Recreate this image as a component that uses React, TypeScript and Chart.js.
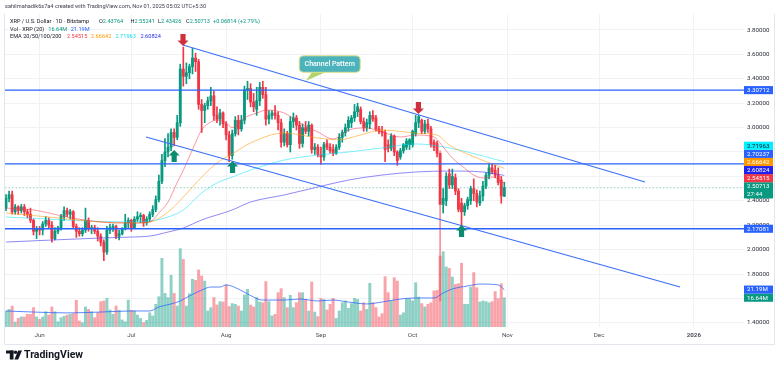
import React, { useEffect, useRef } from "react";
import { Chart, registerables } from "chart.js";

Chart.register(...registerables);

const FONT = "Roboto, 'Liberation Sans', Arial, sans-serif";

// Daily candles, day index 0 = 2025-05-21 ... 163 = 2025-10-31
const opens = [
  2.34, 2.42, 2.45, 2.31, 2.35, 2.32, 2.35, 2.31, 2.29, 2.24,
  2.15, 2.17, 2.16, 2.21, 2.24, 2.20, 2.09, 2.15, 2.18, 2.27,
  2.32, 2.29, 2.31, 2.19, 2.15, 2.13, 2.16, 2.24, 2.17, 2.18,
  2.15, 2.11, 2.06, 1.98, 2.16, 2.18, 2.19, 2.11, 2.13, 2.17,
  2.22, 2.24, 2.18, 2.25, 2.27, 2.28, 2.22, 2.25, 2.29, 2.33,
  2.41, 2.56, 2.73, 2.80, 2.84, 2.96, 2.92, 3.04, 3.48, 3.42,
  3.45, 3.50, 3.57, 3.54, 3.19, 3.14, 3.18, 3.22, 3.26, 3.10,
  3.07, 3.12, 3.03, 2.94, 2.77, 2.95, 3.06, 2.99, 3.06, 3.31,
  3.32, 3.21, 3.15, 3.22, 3.33, 3.27, 3.07, 3.10, 3.12, 3.10,
  3.04, 2.88, 2.95, 2.86, 3.05, 3.08, 3.02, 2.87, 3.00, 2.97,
  3.02, 2.82, 2.84, 2.78, 2.76, 2.87, 2.84, 2.82, 2.79, 2.84,
  2.92, 2.96, 3.00, 3.04, 3.08, 3.13, 3.15, 3.05, 3.00, 3.03,
  3.10, 3.08, 2.99, 2.97, 2.96, 2.86, 2.83, 2.93, 2.80, 2.76,
  2.81, 2.84, 2.86, 2.86, 2.95, 3.04, 3.06, 2.97, 3.03, 2.99,
  2.88, 2.87, 2.79, 2.37, 2.40, 2.62, 2.53, 2.59, 2.48, 2.38,
  2.31, 2.36, 2.40, 2.50, 2.46, 2.38, 2.44, 2.52, 2.61, 2.67,
  2.65, 2.61, 2.57, 2.43764,
];
const highs = [
  2.45, 2.48, 2.48, 2.37, 2.36, 2.37, 2.37, 2.33, 2.34, 2.25,
  2.19, 2.19, 2.23, 2.27, 2.26, 2.23, 2.18, 2.19, 2.29, 2.35,
  2.34, 2.33, 2.32, 2.21, 2.18, 2.18, 2.34, 2.26, 2.20, 2.20,
  2.18, 2.13, 2.08, 2.19, 2.21, 2.21, 2.20, 2.16, 2.18, 2.29,
  2.26, 2.25, 2.27, 2.31, 2.30, 2.29, 2.27, 2.31, 2.36, 2.44,
  2.61, 2.78, 2.91, 2.95, 2.99, 2.99, 3.10, 3.52, 3.66, 3.53,
  3.52, 3.65, 3.61, 3.56, 3.23, 3.20, 3.25, 3.33, 3.30, 3.17,
  3.15, 3.13, 3.05, 2.97, 2.98, 3.09, 3.10, 3.10, 3.34, 3.38,
  3.36, 3.28, 3.33, 3.37, 3.38, 3.33, 3.14, 3.14, 3.18, 3.13,
  3.07, 2.99, 2.97, 3.09, 3.12, 3.10, 3.05, 3.03, 3.05, 3.05,
  3.03, 2.87, 2.86, 2.84, 2.88, 2.90, 2.87, 2.86, 2.86, 2.95,
  2.98, 3.03, 3.09, 3.10, 3.19, 3.20, 3.17, 3.08, 3.07, 3.13,
  3.14, 3.10, 3.01, 3.01, 2.98, 2.90, 2.95, 2.94, 2.81, 2.83,
  2.87, 2.91, 2.91, 2.98, 3.10, 3.10, 3.07, 3.06, 3.07, 3.01,
  2.90, 2.89, 2.81, 2.50, 2.63, 2.66, 2.66, 2.62, 2.50, 2.42,
  2.38, 2.43, 2.52, 2.58, 2.49, 2.48, 2.56, 2.63, 2.70, 2.70,
  2.69, 2.67, 2.60, 2.55241,
];
const lows = [
  2.32, 2.39, 2.29, 2.29, 2.29, 2.30, 2.28, 2.26, 2.22, 2.12,
  2.09, 2.12, 2.12, 2.19, 2.18, 2.06, 2.08, 2.13, 2.16, 2.24,
  2.27, 2.25, 2.18, 2.10, 2.11, 2.11, 2.14, 2.15, 2.13, 2.13,
  2.07, 2.03, 1.91, 1.96, 2.13, 2.15, 2.09, 2.08, 2.12, 2.16,
  2.18, 2.15, 2.17, 2.23, 2.22, 2.19, 2.20, 2.23, 2.27, 2.31,
  2.39, 2.54, 2.68, 2.76, 2.81, 2.85, 2.90, 3.01, 3.34, 3.36,
  3.40, 3.44, 3.46, 3.15, 2.96, 3.04, 3.15, 3.18, 3.06, 3.04,
  3.02, 3.00, 2.90, 2.72, 2.74, 2.93, 2.94, 2.97, 3.03, 3.23,
  3.17, 3.13, 3.10, 3.18, 3.24, 3.02, 3.03, 3.07, 3.07, 2.98,
  2.84, 2.85, 2.84, 2.80, 3.00, 2.98, 2.83, 2.84, 2.95, 2.93,
  2.79, 2.78, 2.76, 2.70, 2.73, 2.82, 2.79, 2.77, 2.78, 2.82,
  2.88, 2.93, 2.97, 3.00, 3.05, 3.09, 3.03, 2.97, 2.97, 2.99,
  3.05, 2.97, 2.95, 2.93, 2.72, 2.80, 2.81, 2.77, 2.69, 2.74,
  2.79, 2.82, 2.82, 2.84, 2.93, 3.00, 2.95, 2.95, 2.96, 2.84,
  2.81, 2.76, 1.58, 2.30, 2.36, 2.50, 2.50, 2.45, 2.31, 2.19,
  2.28, 2.33, 2.37, 2.40, 2.35, 2.36, 2.40, 2.50, 2.58, 2.62,
  2.59, 2.53, 2.38, 2.43426,
];
const closes = [
  2.42, 2.45, 2.31, 2.35, 2.32, 2.35, 2.31, 2.29, 2.24, 2.15,
  2.17, 2.16, 2.21, 2.24, 2.20, 2.09, 2.15, 2.18, 2.27, 2.32,
  2.29, 2.31, 2.19, 2.15, 2.13, 2.16, 2.24, 2.17, 2.18, 2.15,
  2.11, 2.06, 1.98, 2.16, 2.18, 2.19, 2.11, 2.13, 2.17, 2.22,
  2.24, 2.18, 2.25, 2.27, 2.28, 2.22, 2.25, 2.29, 2.33, 2.41,
  2.56, 2.73, 2.80, 2.84, 2.96, 2.92, 3.04, 3.48, 3.42, 3.45,
  3.50, 3.57, 3.54, 3.19, 3.14, 3.18, 3.22, 3.26, 3.10, 3.07,
  3.12, 3.03, 2.94, 2.77, 2.95, 3.06, 2.99, 3.06, 3.31, 3.32,
  3.21, 3.17, 3.22, 3.33, 3.27, 3.07, 3.10, 3.12, 3.10, 3.04,
  2.88, 2.95, 2.86, 3.05, 3.08, 3.02, 2.87, 3.00, 2.97, 3.02,
  2.82, 2.84, 2.78, 2.76, 2.86, 2.84, 2.81, 2.79, 2.84, 2.92,
  2.96, 3.00, 3.06, 3.08, 3.13, 3.17, 3.05, 3.00, 3.04, 3.10,
  3.07, 2.99, 2.97, 2.96, 2.82, 2.83, 2.93, 2.80, 2.73, 2.81,
  2.86, 2.89, 2.90, 2.97, 3.04, 3.09, 2.97, 3.03, 2.99, 2.86,
  2.84, 2.79, 2.37, 2.42, 2.60, 2.53, 2.60, 2.48, 2.33, 2.31,
  2.36, 2.41, 2.50, 2.46, 2.39, 2.44, 2.52, 2.61, 2.67, 2.64,
  2.61, 2.55, 2.44, 2.50713,
];
// volume in millions of XRP
const volumes = [
  9.1, 10.0, 11.9, 2.8, 4.9, 5.7, 5.7, 7.2, 7.2, 11.0,
  5.7, 4.4, 5.7, 8.7, 6.8, 11.4, 8.7, 3.0, 5.3, 6.1,
  6.8, 7.2, 7.6, 15.2, 3.4, 2.5, 11.4, 10.0, 8.7, 5.3,
  8.1, 14.4, 14.8, 16.3, 9.7, 7.2, 11.9, 9.5, 4.0, 3.0,
  15.3, 9.5, 9.1, 6.8, 4.9, 2.5, 3.8, 8.1, 6.3, 12.9,
  17.2, 39.0, 19.1, 16.7, 29.4, 19.1, 11.9, 44.5, 38.4, 11.9,
  18.9, 27.1, 26.5, 32.4, 29.0, 26.1, 9.1, 11.0, 16.7, 12.5,
  14.4, 14.2, 23.9, 11.6, 13.3, 12.9, 11.9, 9.1, 18.2, 21.4,
  12.5, 11.4, 16.7, 14.2, 13.8, 25.8, 14.4, 6.3, 7.2, 19.5,
  21.8, 16.7, 11.0, 18.0, 11.0, 13.8, 19.5, 19.5, 15.7, 9.1,
  25.6, 8.5, 5.9, 16.3, 15.7, 9.7, 12.9, 16.3, 4.9, 9.1,
  13.8, 14.8, 10.6, 13.3, 16.3, 15.7, 9.1, 13.8, 10.0, 24.8,
  13.8, 11.0, 5.7, 7.6, 28.6, 19.5, 14.8, 28.0, 26.1, 6.8,
  8.1, 16.1, 16.1, 14.8, 25.2, 17.0, 13.3, 11.4, 12.9, 13.8,
  20.5, 20.8, 40.3, 42.8, 34.1, 33.3, 28.4, 24.2, 24.6, 36.2,
  12.9, 12.9, 22.7, 30.9, 22.3, 14.2, 14.8, 14.4, 13.8, 14.4,
  20.1, 16.1, 24.6, 16.64,
];

const monthTickDays = [11, 41, 72, 103, 133, 164, 194, 225];
const monthTickLabels = ["Jun", "Jul", "Aug", "Sep", "Oct", "Nov", "Dec", "2026"];
const priceTicks = [1.4, 1.6, 1.8, 2.0, 2.2, 2.4, 2.6, 2.8, 3.0, 3.2, 3.4, 3.6, 3.8];

// EMA readings (day index, value)
const ema20Days = [0, 9, 20, 31, 41, 47, 50, 53, 56, 58, 61, 64, 67, 69, 72, 74, 78, 83, 85, 91, 96, 102, 107, 112, 118, 123, 129, 134, 140, 143, 146, 150, 153, 156, 159, 163];
const ema20 = [2.34, 2.325, 2.267, 2.226, 2.218, 2.226, 2.30, 2.39, 2.55, 2.65, 2.82, 2.98, 3.046, 3.062, 3.038, 3.0, 3.079, 3.128, 3.144, 3.12, 3.038, 2.964, 2.907, 2.98, 2.997, 2.964, 2.923, 2.939, 2.923, 2.841, 2.751, 2.669, 2.611, 2.587, 2.595, 2.545];
const ema50Days = [0, 14, 31, 41, 47, 53, 58, 64, 69, 74, 80, 91, 102, 109, 116, 123, 135, 141, 145, 153, 158, 163];
const ema50 = [2.30, 2.267, 2.226, 2.218, 2.226, 2.308, 2.431, 2.595, 2.71, 2.784, 2.874, 2.956, 2.915, 2.90, 2.94, 2.98, 2.953, 2.939, 2.857, 2.762, 2.712, 2.666];
const ema100Days = [0, 41, 47, 53, 58, 64, 69, 74, 80, 91, 102, 112, 123, 134, 145, 156, 163];
const ema100 = [2.267, 2.226, 2.234, 2.267, 2.325, 2.464, 2.546, 2.595, 2.652, 2.734, 2.775, 2.80, 2.833, 2.866, 2.833, 2.767, 2.72];
const ema200Days = [0, 31, 41, 47, 53, 58, 64, 74, 80, 91, 102, 112, 123, 134, 145, 156, 163];
const ema200 = [2.062, 2.095, 2.103, 2.111, 2.144, 2.177, 2.243, 2.325, 2.39, 2.448, 2.513, 2.57, 2.611, 2.636, 2.644, 2.636, 2.608];
const volMaDays = [0, 9, 20, 31, 41, 47, 50, 54, 57, 60, 64, 67, 70, 72, 76, 79, 84, 91, 96, 102, 107, 112, 118, 123, 129, 134, 140, 143, 146, 151, 155, 161, 163];
const volMa = [9.1, 8.5, 8.0, 8.5, 9.1, 9.1, 11.4, 13.1, 14.8, 17.6, 21.0, 22.7, 22.7, 23.9, 21.6, 18.8, 15.3, 15.3, 15.9, 14.8, 15.3, 14.2, 13.1, 14.2, 15.9, 16.5, 16.5, 19.3, 21.6, 23.3, 24.4, 23.9, 21.19];

const emaLast = [2.54515, 2.66642, 2.71963, 2.60824];
const levelPrices = [3.30712, 2.70237, 2.17081];
const upperChannelDays = [57.9, 209.0];
const upperChannelPrices = [3.677, 2.554];
const lowerChannelDays = [45.8, 220.5];
const lowerChannelPrices = [2.923, 1.693];
const lastPrice = 2.50713;
const lastVolume = 16.64;
const lastVolMa = 21.19;

const arrowDays = [57.9, 134.9, 55.0, 74.1, 149.0];
const arrowPrices = [3.669, 3.111, 2.816, 2.726, 2.202];
const arrowDirs = ["down", "down", "up", "up", "up"];
const calloutDay = 105.9;
const calloutPrice = 3.521;
const calloutTailDay = 98.1;
const calloutTailPrice = 3.384;

const UP = "#089981";
const DOWN = "#f23645";
const BLUE = "#2962ff";
const X_MIN = -0.33;
const X_MAX = 241.4;
const Y_MIN = 1.3656;
const Y_MAX = 3.9311;
const V_MAX = 177.8;

const pts = (days: number[], vals: number[]) => days.map((d, k) => ({ x: d, y: vals[k] }));

const lineDs = (data: any[], color: string, width: number, order: number, extra: any = {}) => ({
  type: "line",
  data,
  borderColor: color,
  borderWidth: width,
  pointRadius: 0,
  fill: false,
  tension: 0,
  order,
  yAxisID: "y",
  ...extra,
});

function drawSegs(ctx: CanvasRenderingContext2D, y: number, segs: any[]) {
  let x = 0;
  for (const s of segs) {
    if (s.x !== undefined) x = s.x;
    if (s.gap) x += s.gap;
    ctx.fillStyle = s.c;
    ctx.fillText(s.t, x, y);
    x += ctx.measureText(s.t).width;
  }
}

const decor = {
  id: "tvDecor",
  beforeDraw(chart: any) {
    const { ctx, width, height } = chart;
    ctx.save();
    ctx.fillStyle = "#ffffff";
    ctx.fillRect(0, 0, width, height);
    ctx.restore();
  },
  afterDatasetsDraw(chart: any) {
    const { ctx } = chart;
    const xs = chart.scales.x;
    const ys = chart.scales.y;
    ctx.save();
    // arrows
    arrowDays.forEach((d, k) => {
      const x = xs.getPixelForValue(d);
      const yt = ys.getPixelForValue(arrowPrices[k]);
      const s = arrowDirs[k] === "down" ? -1 : 1;
      const hw = 5.5, hh = 5.5, sw = 2.6, sh = 6.5;
      ctx.fillStyle = arrowDirs[k] === "down" ? "#d0303c" : "#0b8c70";
      ctx.beginPath();
      ctx.moveTo(x, yt);
      ctx.lineTo(x - hw, yt + s * hh);
      ctx.lineTo(x - sw, yt + s * hh);
      ctx.lineTo(x - sw, yt + s * (hh + sh));
      ctx.lineTo(x + sw, yt + s * (hh + sh));
      ctx.lineTo(x + sw, yt + s * hh);
      ctx.lineTo(x + hw, yt + s * hh);
      ctx.closePath();
      ctx.fill();
    });
    // callout
    const cx = xs.getPixelForValue(calloutDay);
    const cy = ys.getPixelForValue(calloutPrice);
    const tx = xs.getPixelForValue(calloutTailDay);
    const ty = ys.getPixelForValue(calloutTailPrice);
    const bw = 61, bh = 16.5;
    const bx = cx - bw / 2, by = cy - bh / 2;
    ctx.fillStyle = "#b3d46a";
    ctx.beginPath();
    ctx.moveTo(cx - 17, by + bh - 1);
    ctx.lineTo(cx - 2, by + bh - 1);
    ctx.lineTo(tx, ty);
    ctx.closePath();
    ctx.fill();
    ctx.beginPath();
    ctx.roundRect(bx, by, bw, bh, 4);
    ctx.fillStyle = "#4cb3bd";
    ctx.fill();
    ctx.strokeStyle = "#dfe38a";
    ctx.lineWidth = 1;
    ctx.stroke();
    ctx.fillStyle = "#ffffff";
    ctx.font = `500 7px ${FONT}`;
    ctx.textAlign = "center";
    ctx.textBaseline = "middle";
    ctx.fillText("Channel Pattern", cx, cy + 0.5);
    ctx.restore();
  },
  afterDraw(chart: any) {
    const { ctx } = chart;
    const ys = chart.scales.y;
    const vs = chart.scales.v;
    ctx.save();
    // frame
    ctx.strokeStyle = "#e3e6ec";
    ctx.lineWidth = 1;
    ctx.beginPath();
    ctx.moveTo(774.5, 14);
    ctx.lineTo(774.5, 344.5);
    ctx.lineTo(4.5, 344.5);
    ctx.lineTo(4.5, 14);
    ctx.stroke();

    // axis label boxes
    const LH = 8.1;
    const bx = 744, bw = 29;
    const box = (top: number, lines: string[], bg: string, fg: string) => {
      ctx.fillStyle = bg;
      ctx.fillRect(bx, top, bw, LH * lines.length);
      ctx.fillStyle = fg;
      ctx.font = `6.2px ${FONT}`;
      ctx.textAlign = "left";
      ctx.textBaseline = "middle";
      lines.forEach((t, k) => ctx.fillText(t, 747, top + LH / 2 + k * LH + 0.3));
    };
    const lastTop = ys.getPixelForValue(lastPrice) - 5.5;
    box(lastTop, [lastPrice.toFixed(5), "27:44"], UP, "#fff");
    const above = [
      { v: emaLast[0], bg: "#f23645", fg: "#fff" },
      { v: emaLast[3], bg: "#2222ee", fg: "#fff" },
      { v: emaLast[1], bg: "#ff9800", fg: "#fff" },
      { v: levelPrices[1], bg: BLUE, fg: "#fff" },
      { v: emaLast[2], bg: "#00f0ff", fg: "#131722" },
      { v: levelPrices[0], bg: BLUE, fg: "#fff" },
    ];
    let prevTop = lastTop;
    for (const a of above) {
      let top = ys.getPixelForValue(a.v) - LH / 2;
      if (top + LH > prevTop) top = prevTop - LH;
      box(top, [a.v.toFixed(5)], a.bg, a.fg);
      prevTop = top;
    }
    box(ys.getPixelForValue(levelPrices[2]) - LH / 2, [levelPrices[2].toFixed(5)], BLUE, "#fff");
    const vTop = vs.getPixelForValue(lastVolume) - LH / 2;
    box(vTop, [lastVolume.toFixed(2) + "M"], UP, "#fff");
    const maTop = Math.min(vs.getPixelForValue(lastVolMa) - LH / 2, vTop - LH);
    box(maTop, [lastVolMa.toFixed(2) + "M"], BLUE, "#fff");

    // header
    const dark = "#131722";
    ctx.textAlign = "left";
    ctx.textBaseline = "middle";
    ctx.font = `5.6px ${FONT}`;
    ctx.fillStyle = "#3a3e48";
    ctx.fillText("sahilmahadik6s7a4 created with TradingView.com, Nov 01, 2025 05:02 UTC+5:30", 5, 7);
    ctx.font = `5.6px ${FONT}`;
    drawSegs(ctx, 22, [
      { t: "XRP / U.S. Dollar · 1D · Bitstamp", c: dark, x: 10 },
      { t: "O", c: dark, x: 99 },
      { t: "2.43764", c: UP },
      { t: "H", c: dark, x: 130.5 },
      { t: "2.55241", c: UP },
      { t: "L", c: dark, x: 158 },
      { t: "2.43426", c: UP },
      { t: "C", c: dark, x: 186 },
      { t: "2.50713", c: UP },
      { t: "+0.06814 (+2.79%)", c: UP, x: 213 },
    ]);
    drawSegs(ctx, 29.5, [
      { t: "Vol · XRP (20)", c: dark, x: 10 },
      { t: lastVolume.toFixed(2) + "M", c: UP, gap: 4 },
      { t: lastVolMa.toFixed(2) + "M", c: BLUE, gap: 3.5 },
    ]);
    drawSegs(ctx, 37, [
      { t: "EMA 20/50/100/200", c: dark, x: 10 },
      { t: emaLast[0].toFixed(5), c: "#f23645", x: 67 },
      { t: emaLast[1].toFixed(5), c: "#ff9800", x: 91 },
      { t: emaLast[2].toFixed(5), c: "#16d9e8", x: 115.5 },
      { t: emaLast[3].toFixed(5), c: "#2a2ae8", x: 140.5 },
    ]);

    // TradingView logo
    ctx.fillStyle = dark;
    ctx.fillRect(6, 350.5, 7.5, 3);
    ctx.fillRect(9.8, 350.5, 3.7, 9);
    ctx.beginPath();
    ctx.arc(15.6, 352.2, 1.7, 0, Math.PI * 2);
    ctx.fill();
    ctx.beginPath();
    ctx.moveTo(18.2, 350.5);
    ctx.lineTo(22, 350.5);
    ctx.lineTo(18.2, 359.5);
    ctx.lineTo(14.4, 359.5);
    ctx.closePath();
    ctx.fill();
    ctx.font = `bold 10.5px ${FONT}`;
    ctx.fillText("TradingView", 24, 355.5);
    ctx.restore();
  },
};

export default function App() {
  const ref = useRef<HTMLCanvasElement>(null);
  useEffect(() => {
    const canvas = ref.current;
    if (!canvas) return;
    const isUp = opens.map((o, i) => closes[i] >= o);
    const candleColors = isUp.map((u) => (u ? UP : DOWN));
    const volColors = isUp.map((u) => (u ? "rgba(8,153,129,0.45)" : "rgba(242,54,69,0.45)"));
    const wickColors = isUp.map((u, i) => (i === 142 ? "rgba(242,54,69,0.55)" : u ? UP : DOWN));

    const datasets: any[] = [
      {
        type: "bar",
        data: volumes.map((v, i) => ({ x: i, y: v })),
        backgroundColor: volColors,
        barThickness: 2.3,
        grouped: false,
        yAxisID: "v",
        order: 20,
      },
      {
        type: "bar",
        data: lows.map((l, i) => ({ x: i, y: [l, highs[i]] })),
        backgroundColor: wickColors,
        barThickness: 1,
        grouped: false,
        yAxisID: "y",
        order: 12,
      },
      {
        type: "bar",
        data: opens.map((o, i) => ({ x: i, y: [o, closes[i]] })),
        backgroundColor: candleColors,
        barThickness: 2.2,
        minBarLength: 1,
        grouped: false,
        yAxisID: "y",
        order: 11,
      },
      lineDs(pts(volMaDays, volMa), "rgba(41,98,255,0.75)", 1, 10, { yAxisID: "v", cubicInterpolationMode: "monotone" }),
      lineDs(pts(ema200Days, ema200), "rgba(70,60,240,0.6)", 1, 9, { cubicInterpolationMode: "monotone" }),
      lineDs(pts(ema100Days, ema100), "rgba(0,225,250,0.5)", 1, 8, { cubicInterpolationMode: "monotone" }),
      lineDs(pts(ema50Days, ema50), "rgba(255,152,0,0.55)", 1, 7, { cubicInterpolationMode: "monotone" }),
      lineDs(pts(ema20Days, ema20), "rgba(242,54,69,0.5)", 1, 6, { cubicInterpolationMode: "monotone" }),
      lineDs([{ x: X_MIN, y: lastPrice }, { x: X_MAX, y: lastPrice }], "rgba(8,153,129,0.45)", 1, 5, { borderDash: [1.5, 2] }),
      ...levelPrices.map((p) => lineDs([{ x: X_MIN, y: p }, { x: X_MAX, y: p }], BLUE, 1.4, 4)),
      lineDs(pts(upperChannelDays, upperChannelPrices), "#3a6ff7", 1.1, 3),
      lineDs(pts(lowerChannelDays, lowerChannelPrices), "#3a6ff7", 1.1, 3),
    ];

    const chart = new Chart(canvas, {
      type: "bar",
      data: { datasets },
      options: {
        animation: false,
        responsive: false,
        devicePixelRatio: 1,
        events: [],
        layout: { padding: { left: 5, top: 14, right: 0, bottom: 25 } },
        plugins: { legend: { display: false }, tooltip: { enabled: false } },
        scales: {
          x: {
            type: "linear",
            min: X_MIN,
            max: X_MAX,
            bounds: "data",
            offset: false,
            afterBuildTicks: (s: any) => {
              s.ticks = monthTickDays.map((v) => ({ value: v }));
            },
            afterFit: (s: any) => {
              s.height = 18;
            },
            ticks: {
              autoSkip: false,
              maxRotation: 0,
              padding: 5,
              color: "#4a4e59",
              font: (c: any) => ({
                size: 6.2,
                family: FONT,
                weight: c.tick && c.tick.value === 225 ? "bold" : "normal",
              }),
              callback: (v: any) => {
                const k = monthTickDays.indexOf(Number(v));
                return k >= 0 ? monthTickLabels[k] : "";
              },
            },
            grid: { color: "#f0f2f6", drawTicks: false, offset: false },
            border: { display: false },
          },
          y: {
            type: "linear",
            position: "right",
            min: Y_MIN,
            max: Y_MAX,
            bounds: "data",
            afterBuildTicks: (s: any) => {
              s.ticks = priceTicks.map((v) => ({ value: v }));
            },
            afterFit: (s: any) => {
              s.width = 36;
            },
            ticks: {
              padding: 3,
              color: "#2a2e39",
              font: { size: 6.2, family: FONT },
              callback: (v: any) => Number(v).toFixed(5),
            },
            grid: { color: "#f0f2f6", drawTicks: false },
            border: { display: false },
          },
          v: {
            type: "linear",
            display: false,
            min: 0,
            max: V_MAX,
            grid: { display: false },
          },
        },
      } as any,
      plugins: [decor as any],
    } as any);
    return () => chart.destroy();
  }, []);

  return (
    <div style={{ position: "fixed", left: 0, top: 0, width: 780, height: 370, background: "#fff" }}>
      <canvas ref={ref} width={780} height={370} style={{ display: "block", width: 780, height: 370 }} />
    </div>
  );
}
